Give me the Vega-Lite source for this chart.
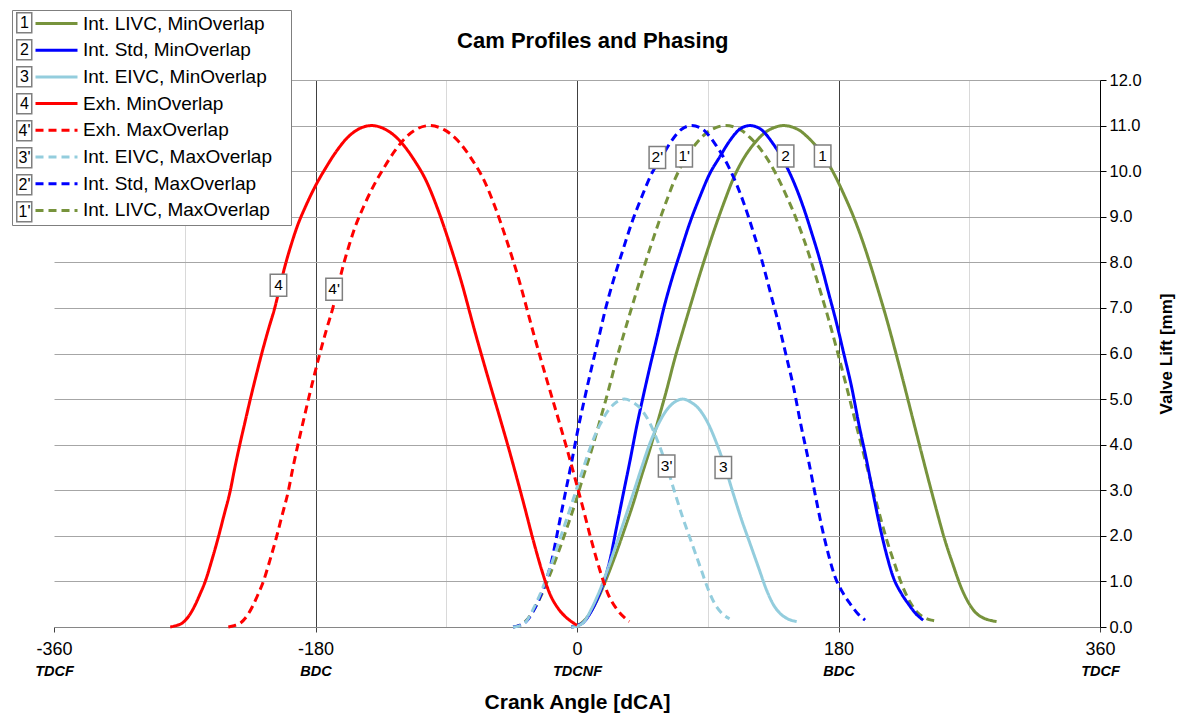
{
"$schema": "https://vega.github.io/schema/vega-lite/v6.json",
"width": 1046, "height": 547,
"autosize": "none",
"padding": {"left": 54, "top": 80, "right": 92, "bottom": 86},
"background": "white",
"config": {"view": {"stroke": null}, "font": "Liberation Sans"},
"title": {"text": "Cam Profiles and Phasing", "font": "Liberation Sans", "fontSize": 22, "fontWeight": "bold", "color": "black", "anchor": "middle", "frame": "bounds", "offset": -43},
"datasets": {
"curves": [
{"s":"Int. LIVC, MinOverlap","x":-4,"y":0},{"s":"Int. LIVC, MinOverlap","x":0,"y":0.03},{"s":"Int. LIVC, MinOverlap","x":5,"y":0.14},{"s":"Int. LIVC, MinOverlap","x":10,"y":0.36},{"s":"Int. LIVC, MinOverlap","x":15.8,"y":0.72},{"s":"Int. LIVC, MinOverlap","x":21,"y":1.12},{"s":"Int. LIVC, MinOverlap","x":27.3,"y":1.65},{"s":"Int. LIVC, MinOverlap","x":33,"y":2.17},{"s":"Int. LIVC, MinOverlap","x":38.7,"y":2.71},{"s":"Int. LIVC, MinOverlap","x":44,"y":3.27},{"s":"Int. LIVC, MinOverlap","x":50.2,"y":3.9},{"s":"Int. LIVC, MinOverlap","x":56,"y":4.55},{"s":"Int. LIVC, MinOverlap","x":61.7,"y":5.2},{"s":"Int. LIVC, MinOverlap","x":67,"y":5.85},{"s":"Int. LIVC, MinOverlap","x":73.1,"y":6.52},{"s":"Int. LIVC, MinOverlap","x":79,"y":7.15},{"s":"Int. LIVC, MinOverlap","x":84.6,"y":7.74},{"s":"Int. LIVC, MinOverlap","x":90,"y":8.28},{"s":"Int. LIVC, MinOverlap","x":96.1,"y":8.86},{"s":"Int. LIVC, MinOverlap","x":102,"y":9.38},{"s":"Int. LIVC, MinOverlap","x":107.5,"y":9.83},{"s":"Int. LIVC, MinOverlap","x":114,"y":10.24},{"s":"Int. LIVC, MinOverlap","x":121.3,"y":10.58},{"s":"Int. LIVC, MinOverlap","x":130,"y":10.86},{"s":"Int. LIVC, MinOverlap","x":136,"y":10.96},{"s":"Int. LIVC, MinOverlap","x":142,"y":11.0},{"s":"Int. LIVC, MinOverlap","x":148,"y":10.97},{"s":"Int. LIVC, MinOverlap","x":153.4,"y":10.89},{"s":"Int. LIVC, MinOverlap","x":159,"y":10.74},{"s":"Int. LIVC, MinOverlap","x":164.9,"y":10.54},{"s":"Int. LIVC, MinOverlap","x":171,"y":10.27},{"s":"Int. LIVC, MinOverlap","x":178.7,"y":9.83},{"s":"Int. LIVC, MinOverlap","x":184,"y":9.47},{"s":"Int. LIVC, MinOverlap","x":190.1,"y":9.02},{"s":"Int. LIVC, MinOverlap","x":196,"y":8.52},{"s":"Int. LIVC, MinOverlap","x":201.6,"y":7.98},{"s":"Int. LIVC, MinOverlap","x":207,"y":7.42},{"s":"Int. LIVC, MinOverlap","x":213.1,"y":6.76},{"s":"Int. LIVC, MinOverlap","x":219,"y":6.07},{"s":"Int. LIVC, MinOverlap","x":224.5,"y":5.4},{"s":"Int. LIVC, MinOverlap","x":230,"y":4.71},{"s":"Int. LIVC, MinOverlap","x":236,"y":3.96},{"s":"Int. LIVC, MinOverlap","x":241.5,"y":3.28},{"s":"Int. LIVC, MinOverlap","x":247.5,"y":2.56},{"s":"Int. LIVC, MinOverlap","x":253,"y":1.93},{"s":"Int. LIVC, MinOverlap","x":258.9,"y":1.36},{"s":"Int. LIVC, MinOverlap","x":264,"y":0.9},{"s":"Int. LIVC, MinOverlap","x":269.2,"y":0.55},{"s":"Int. LIVC, MinOverlap","x":274,"y":0.33},{"s":"Int. LIVC, MinOverlap","x":279.6,"y":0.2},{"s":"Int. LIVC, MinOverlap","x":284,"y":0.15},{"s":"Int. LIVC, MinOverlap","x":288.8,"y":0.12},

{"s":"Int. LIVC, MaxOverlap","x":-44,"y":0},{"s":"Int. LIVC, MaxOverlap","x":-40,"y":0.03},{"s":"Int. LIVC, MaxOverlap","x":-35,"y":0.14},{"s":"Int. LIVC, MaxOverlap","x":-30,"y":0.36},{"s":"Int. LIVC, MaxOverlap","x":-24.2,"y":0.72},{"s":"Int. LIVC, MaxOverlap","x":-19,"y":1.12},{"s":"Int. LIVC, MaxOverlap","x":-12.7,"y":1.65},{"s":"Int. LIVC, MaxOverlap","x":-7,"y":2.17},{"s":"Int. LIVC, MaxOverlap","x":-1.3,"y":2.71},{"s":"Int. LIVC, MaxOverlap","x":4,"y":3.27},{"s":"Int. LIVC, MaxOverlap","x":10.2,"y":3.9},{"s":"Int. LIVC, MaxOverlap","x":16,"y":4.55},{"s":"Int. LIVC, MaxOverlap","x":21.7,"y":5.2},{"s":"Int. LIVC, MaxOverlap","x":27,"y":5.85},{"s":"Int. LIVC, MaxOverlap","x":33.1,"y":6.52},{"s":"Int. LIVC, MaxOverlap","x":39,"y":7.15},{"s":"Int. LIVC, MaxOverlap","x":44.6,"y":7.74},{"s":"Int. LIVC, MaxOverlap","x":50,"y":8.28},{"s":"Int. LIVC, MaxOverlap","x":56.1,"y":8.86},{"s":"Int. LIVC, MaxOverlap","x":62,"y":9.38},{"s":"Int. LIVC, MaxOverlap","x":67.5,"y":9.83},{"s":"Int. LIVC, MaxOverlap","x":74,"y":10.24},{"s":"Int. LIVC, MaxOverlap","x":81.3,"y":10.58},{"s":"Int. LIVC, MaxOverlap","x":90,"y":10.86},{"s":"Int. LIVC, MaxOverlap","x":96,"y":10.96},{"s":"Int. LIVC, MaxOverlap","x":102,"y":11.0},{"s":"Int. LIVC, MaxOverlap","x":108,"y":10.97},{"s":"Int. LIVC, MaxOverlap","x":113.4,"y":10.89},{"s":"Int. LIVC, MaxOverlap","x":119,"y":10.74},{"s":"Int. LIVC, MaxOverlap","x":124.9,"y":10.54},{"s":"Int. LIVC, MaxOverlap","x":131,"y":10.27},{"s":"Int. LIVC, MaxOverlap","x":138.7,"y":9.83},{"s":"Int. LIVC, MaxOverlap","x":144,"y":9.47},{"s":"Int. LIVC, MaxOverlap","x":150.1,"y":9.02},{"s":"Int. LIVC, MaxOverlap","x":156,"y":8.52},{"s":"Int. LIVC, MaxOverlap","x":161.6,"y":7.98},{"s":"Int. LIVC, MaxOverlap","x":167,"y":7.42},{"s":"Int. LIVC, MaxOverlap","x":173.1,"y":6.76},{"s":"Int. LIVC, MaxOverlap","x":179,"y":6.07},{"s":"Int. LIVC, MaxOverlap","x":184.5,"y":5.4},{"s":"Int. LIVC, MaxOverlap","x":190,"y":4.71},{"s":"Int. LIVC, MaxOverlap","x":196,"y":3.96},{"s":"Int. LIVC, MaxOverlap","x":201.5,"y":3.28},{"s":"Int. LIVC, MaxOverlap","x":207.5,"y":2.56},{"s":"Int. LIVC, MaxOverlap","x":213,"y":1.93},{"s":"Int. LIVC, MaxOverlap","x":218.9,"y":1.36},{"s":"Int. LIVC, MaxOverlap","x":224,"y":0.9},{"s":"Int. LIVC, MaxOverlap","x":229.2,"y":0.55},{"s":"Int. LIVC, MaxOverlap","x":234,"y":0.33},{"s":"Int. LIVC, MaxOverlap","x":239.6,"y":0.2},{"s":"Int. LIVC, MaxOverlap","x":244,"y":0.15},{"s":"Int. LIVC, MaxOverlap","x":248.8,"y":0.12},

{"s":"Int. Std, MinOverlap","x":-4,"y":0},{"s":"Int. Std, MinOverlap","x":0,"y":0.03},{"s":"Int. Std, MinOverlap","x":5,"y":0.12},{"s":"Int. Std, MinOverlap","x":9,"y":0.3},{"s":"Int. Std, MinOverlap","x":13.6,"y":0.59},{"s":"Int. Std, MinOverlap","x":18,"y":0.95},{"s":"Int. Std, MinOverlap","x":22.7,"y":1.47},{"s":"Int. Std, MinOverlap","x":27,"y":2.15},{"s":"Int. Std, MinOverlap","x":31.9,"y":2.93},{"s":"Int. Std, MinOverlap","x":36.5,"y":3.65},{"s":"Int. Std, MinOverlap","x":41,"y":4.39},{"s":"Int. Std, MinOverlap","x":45.5,"y":5.05},{"s":"Int. Std, MinOverlap","x":50.2,"y":5.71},{"s":"Int. Std, MinOverlap","x":55,"y":6.35},{"s":"Int. Std, MinOverlap","x":59.4,"y":6.95},{"s":"Int. Std, MinOverlap","x":65,"y":7.6},{"s":"Int. Std, MinOverlap","x":70.9,"y":8.2},{"s":"Int. Std, MinOverlap","x":77.5,"y":8.85},{"s":"Int. Std, MinOverlap","x":84.6,"y":9.44},{"s":"Int. Std, MinOverlap","x":91,"y":9.92},{"s":"Int. Std, MinOverlap","x":98.4,"y":10.32},{"s":"Int. Std, MinOverlap","x":105,"y":10.66},{"s":"Int. Std, MinOverlap","x":112,"y":10.92},{"s":"Int. Std, MinOverlap","x":119,"y":11.0},{"s":"Int. Std, MinOverlap","x":126,"y":10.93},{"s":"Int. Std, MinOverlap","x":135,"y":10.6},{"s":"Int. Std, MinOverlap","x":144.3,"y":10.1},{"s":"Int. Std, MinOverlap","x":150,"y":9.7},{"s":"Int. Std, MinOverlap","x":155.7,"y":9.22},{"s":"Int. Std, MinOverlap","x":161.5,"y":8.65},{"s":"Int. Std, MinOverlap","x":167.2,"y":8.05},{"s":"Int. Std, MinOverlap","x":173,"y":7.35},{"s":"Int. Std, MinOverlap","x":178.7,"y":6.66},{"s":"Int. Std, MinOverlap","x":184,"y":5.95},{"s":"Int. Std, MinOverlap","x":189,"y":5.27},{"s":"Int. Std, MinOverlap","x":194,"y":4.45},{"s":"Int. Std, MinOverlap","x":199.3,"y":3.66},{"s":"Int. Std, MinOverlap","x":204,"y":2.9},{"s":"Int. Std, MinOverlap","x":208.5,"y":2.2},{"s":"Int. Std, MinOverlap","x":213,"y":1.6},{"s":"Int. Std, MinOverlap","x":217.6,"y":1.1},{"s":"Int. Std, MinOverlap","x":223,"y":0.75},{"s":"Int. Std, MinOverlap","x":228,"y":0.51},{"s":"Int. Std, MinOverlap","x":233,"y":0.3},{"s":"Int. Std, MinOverlap","x":238.3,"y":0.15},

{"s":"Int. Std, MaxOverlap","x":-44,"y":0},{"s":"Int. Std, MaxOverlap","x":-40,"y":0.03},{"s":"Int. Std, MaxOverlap","x":-35,"y":0.12},{"s":"Int. Std, MaxOverlap","x":-31,"y":0.3},{"s":"Int. Std, MaxOverlap","x":-26.4,"y":0.59},{"s":"Int. Std, MaxOverlap","x":-22,"y":0.95},{"s":"Int. Std, MaxOverlap","x":-17.3,"y":1.47},{"s":"Int. Std, MaxOverlap","x":-13,"y":2.15},{"s":"Int. Std, MaxOverlap","x":-8.1,"y":2.93},{"s":"Int. Std, MaxOverlap","x":-3.5,"y":3.65},{"s":"Int. Std, MaxOverlap","x":1,"y":4.39},{"s":"Int. Std, MaxOverlap","x":5.5,"y":5.05},{"s":"Int. Std, MaxOverlap","x":10.2,"y":5.71},{"s":"Int. Std, MaxOverlap","x":15,"y":6.35},{"s":"Int. Std, MaxOverlap","x":19.4,"y":6.95},{"s":"Int. Std, MaxOverlap","x":25,"y":7.6},{"s":"Int. Std, MaxOverlap","x":30.9,"y":8.2},{"s":"Int. Std, MaxOverlap","x":37.5,"y":8.85},{"s":"Int. Std, MaxOverlap","x":44.6,"y":9.44},{"s":"Int. Std, MaxOverlap","x":51,"y":9.92},{"s":"Int. Std, MaxOverlap","x":58.4,"y":10.32},{"s":"Int. Std, MaxOverlap","x":65,"y":10.66},{"s":"Int. Std, MaxOverlap","x":72,"y":10.92},{"s":"Int. Std, MaxOverlap","x":79,"y":11.0},{"s":"Int. Std, MaxOverlap","x":86,"y":10.93},{"s":"Int. Std, MaxOverlap","x":95,"y":10.6},{"s":"Int. Std, MaxOverlap","x":104.3,"y":10.1},{"s":"Int. Std, MaxOverlap","x":110,"y":9.7},{"s":"Int. Std, MaxOverlap","x":115.7,"y":9.22},{"s":"Int. Std, MaxOverlap","x":121.5,"y":8.65},{"s":"Int. Std, MaxOverlap","x":127.2,"y":8.05},{"s":"Int. Std, MaxOverlap","x":133,"y":7.35},{"s":"Int. Std, MaxOverlap","x":138.7,"y":6.66},{"s":"Int. Std, MaxOverlap","x":144,"y":5.95},{"s":"Int. Std, MaxOverlap","x":149,"y":5.27},{"s":"Int. Std, MaxOverlap","x":154,"y":4.45},{"s":"Int. Std, MaxOverlap","x":159.3,"y":3.66},{"s":"Int. Std, MaxOverlap","x":164,"y":2.9},{"s":"Int. Std, MaxOverlap","x":168.5,"y":2.2},{"s":"Int. Std, MaxOverlap","x":173,"y":1.6},{"s":"Int. Std, MaxOverlap","x":177.6,"y":1.1},{"s":"Int. Std, MaxOverlap","x":183,"y":0.75},{"s":"Int. Std, MaxOverlap","x":188,"y":0.51},{"s":"Int. Std, MaxOverlap","x":193,"y":0.3},{"s":"Int. Std, MaxOverlap","x":198.3,"y":0.15},

{"s":"Int. EIVC, MinOverlap","x":-4,"y":0},{"s":"Int. EIVC, MinOverlap","x":0,"y":0.02},{"s":"Int. EIVC, MinOverlap","x":5,"y":0.12},{"s":"Int. EIVC, MinOverlap","x":10,"y":0.4},{"s":"Int. EIVC, MinOverlap","x":15.8,"y":0.81},{"s":"Int. EIVC, MinOverlap","x":21.5,"y":1.3},{"s":"Int. EIVC, MinOverlap","x":27.3,"y":1.84},{"s":"Int. EIVC, MinOverlap","x":33,"y":2.38},{"s":"Int. EIVC, MinOverlap","x":38.7,"y":2.93},{"s":"Int. EIVC, MinOverlap","x":44.5,"y":3.5},{"s":"Int. EIVC, MinOverlap","x":50.2,"y":4.03},{"s":"Int. EIVC, MinOverlap","x":56,"y":4.45},{"s":"Int. EIVC, MinOverlap","x":61.7,"y":4.76},{"s":"Int. EIVC, MinOverlap","x":67,"y":4.93},{"s":"Int. EIVC, MinOverlap","x":72.7,"y":5.0},{"s":"Int. EIVC, MinOverlap","x":78.5,"y":4.93},{"s":"Int. EIVC, MinOverlap","x":84.6,"y":4.76},{"s":"Int. EIVC, MinOverlap","x":90.5,"y":4.45},{"s":"Int. EIVC, MinOverlap","x":96.1,"y":4.03},{"s":"Int. EIVC, MinOverlap","x":102,"y":3.5},{"s":"Int. EIVC, MinOverlap","x":107.5,"y":2.93},{"s":"Int. EIVC, MinOverlap","x":113,"y":2.38},{"s":"Int. EIVC, MinOverlap","x":119,"y":1.84},{"s":"Int. EIVC, MinOverlap","x":125,"y":1.3},{"s":"Int. EIVC, MinOverlap","x":130.5,"y":0.81},{"s":"Int. EIVC, MinOverlap","x":135,"y":0.5},{"s":"Int. EIVC, MinOverlap","x":139.7,"y":0.3},{"s":"Int. EIVC, MinOverlap","x":145,"y":0.18},{"s":"Int. EIVC, MinOverlap","x":151.2,"y":0.12},

{"s":"Int. EIVC, MaxOverlap","x":-44,"y":0},{"s":"Int. EIVC, MaxOverlap","x":-40,"y":0.02},{"s":"Int. EIVC, MaxOverlap","x":-35,"y":0.12},{"s":"Int. EIVC, MaxOverlap","x":-30,"y":0.4},{"s":"Int. EIVC, MaxOverlap","x":-24.2,"y":0.81},{"s":"Int. EIVC, MaxOverlap","x":-18.5,"y":1.3},{"s":"Int. EIVC, MaxOverlap","x":-12.7,"y":1.84},{"s":"Int. EIVC, MaxOverlap","x":-7,"y":2.38},{"s":"Int. EIVC, MaxOverlap","x":-1.3,"y":2.93},{"s":"Int. EIVC, MaxOverlap","x":4.5,"y":3.5},{"s":"Int. EIVC, MaxOverlap","x":10.2,"y":4.03},{"s":"Int. EIVC, MaxOverlap","x":16,"y":4.45},{"s":"Int. EIVC, MaxOverlap","x":21.7,"y":4.76},{"s":"Int. EIVC, MaxOverlap","x":27,"y":4.93},{"s":"Int. EIVC, MaxOverlap","x":32.7,"y":5.0},{"s":"Int. EIVC, MaxOverlap","x":38.5,"y":4.93},{"s":"Int. EIVC, MaxOverlap","x":44.6,"y":4.76},{"s":"Int. EIVC, MaxOverlap","x":50.5,"y":4.45},{"s":"Int. EIVC, MaxOverlap","x":56.1,"y":4.03},{"s":"Int. EIVC, MaxOverlap","x":62,"y":3.5},{"s":"Int. EIVC, MaxOverlap","x":67.5,"y":2.93},{"s":"Int. EIVC, MaxOverlap","x":73,"y":2.38},{"s":"Int. EIVC, MaxOverlap","x":79,"y":1.84},{"s":"Int. EIVC, MaxOverlap","x":85,"y":1.3},{"s":"Int. EIVC, MaxOverlap","x":90.5,"y":0.81},{"s":"Int. EIVC, MaxOverlap","x":95,"y":0.5},{"s":"Int. EIVC, MaxOverlap","x":99.7,"y":0.3},{"s":"Int. EIVC, MaxOverlap","x":105,"y":0.18},

{"s":"Exh. MinOverlap","x":-280,"y":0},{"s":"Exh. MinOverlap","x":-276,"y":0.03},{"s":"Exh. MinOverlap","x":-272,"y":0.08},{"s":"Exh. MinOverlap","x":-267,"y":0.25},{"s":"Exh. MinOverlap","x":-262.9,"y":0.48},{"s":"Exh. MinOverlap","x":-259.5,"y":0.72},{"s":"Exh. MinOverlap","x":-256,"y":0.99},{"s":"Exh. MinOverlap","x":-251.5,"y":1.45},{"s":"Exh. MinOverlap","x":-246.8,"y":1.98},{"s":"Exh. MinOverlap","x":-243,"y":2.45},{"s":"Exh. MinOverlap","x":-238.8,"y":2.97},{"s":"Exh. MinOverlap","x":-235.5,"y":3.5},{"s":"Exh. MinOverlap","x":-231.9,"y":4.03},{"s":"Exh. MinOverlap","x":-228.5,"y":4.5},{"s":"Exh. MinOverlap","x":-225,"y":4.98},{"s":"Exh. MinOverlap","x":-221,"y":5.5},{"s":"Exh. MinOverlap","x":-217,"y":6.0},{"s":"Exh. MinOverlap","x":-212.5,"y":6.52},{"s":"Exh. MinOverlap","x":-207.8,"y":7.03},{"s":"Exh. MinOverlap","x":-204.5,"y":7.47},{"s":"Exh. MinOverlap","x":-200.9,"y":7.93},{"s":"Exh. MinOverlap","x":-196.8,"y":8.38},{"s":"Exh. MinOverlap","x":-192.9,"y":8.76},{"s":"Exh. MinOverlap","x":-186.5,"y":9.25},{"s":"Exh. MinOverlap","x":-180.3,"y":9.66},{"s":"Exh. MinOverlap","x":-172.8,"y":10.08},{"s":"Exh. MinOverlap","x":-165.3,"y":10.45},{"s":"Exh. MinOverlap","x":-158.5,"y":10.72},{"s":"Exh. MinOverlap","x":-151.6,"y":10.9},{"s":"Exh. MinOverlap","x":-141.3,"y":11.0},{"s":"Exh. MinOverlap","x":-131.5,"y":10.91},{"s":"Exh. MinOverlap","x":-121.8,"y":10.66},{"s":"Exh. MinOverlap","x":-112.6,"y":10.27},{"s":"Exh. MinOverlap","x":-103.4,"y":9.76},{"s":"Exh. MinOverlap","x":-96,"y":9.18},{"s":"Exh. MinOverlap","x":-88.6,"y":8.5},{"s":"Exh. MinOverlap","x":-80,"y":7.62},{"s":"Exh. MinOverlap","x":-70,"y":6.45},{"s":"Exh. MinOverlap","x":-61.5,"y":5.5},{"s":"Exh. MinOverlap","x":-53,"y":4.58},{"s":"Exh. MinOverlap","x":-47.3,"y":3.95},{"s":"Exh. MinOverlap","x":-41.5,"y":3.28},{"s":"Exh. MinOverlap","x":-35.8,"y":2.6},{"s":"Exh. MinOverlap","x":-30.1,"y":1.9},{"s":"Exh. MinOverlap","x":-24.3,"y":1.25},{"s":"Exh. MinOverlap","x":-18.6,"y":0.72},{"s":"Exh. MinOverlap","x":-12.8,"y":0.4},{"s":"Exh. MinOverlap","x":-7.1,"y":0.2},{"s":"Exh. MinOverlap","x":-3,"y":0.1},{"s":"Exh. MinOverlap","x":0,"y":0.04},

{"s":"Exh. MaxOverlap","x":-240,"y":0},{"s":"Exh. MaxOverlap","x":-236,"y":0.03},{"s":"Exh. MaxOverlap","x":-232,"y":0.08},{"s":"Exh. MaxOverlap","x":-227,"y":0.25},{"s":"Exh. MaxOverlap","x":-222.9,"y":0.48},{"s":"Exh. MaxOverlap","x":-219.5,"y":0.72},{"s":"Exh. MaxOverlap","x":-216,"y":0.99},{"s":"Exh. MaxOverlap","x":-211.5,"y":1.45},{"s":"Exh. MaxOverlap","x":-206.8,"y":1.98},{"s":"Exh. MaxOverlap","x":-203,"y":2.45},{"s":"Exh. MaxOverlap","x":-198.8,"y":2.97},{"s":"Exh. MaxOverlap","x":-195.5,"y":3.5},{"s":"Exh. MaxOverlap","x":-191.9,"y":4.03},{"s":"Exh. MaxOverlap","x":-188.5,"y":4.5},{"s":"Exh. MaxOverlap","x":-185,"y":4.98},{"s":"Exh. MaxOverlap","x":-181,"y":5.5},{"s":"Exh. MaxOverlap","x":-177,"y":6.0},{"s":"Exh. MaxOverlap","x":-172.5,"y":6.52},{"s":"Exh. MaxOverlap","x":-167.8,"y":7.03},{"s":"Exh. MaxOverlap","x":-164.5,"y":7.47},{"s":"Exh. MaxOverlap","x":-160.9,"y":7.93},{"s":"Exh. MaxOverlap","x":-156.8,"y":8.38},{"s":"Exh. MaxOverlap","x":-152.9,"y":8.76},{"s":"Exh. MaxOverlap","x":-146.5,"y":9.25},{"s":"Exh. MaxOverlap","x":-140.3,"y":9.66},{"s":"Exh. MaxOverlap","x":-132.8,"y":10.08},{"s":"Exh. MaxOverlap","x":-125.3,"y":10.45},{"s":"Exh. MaxOverlap","x":-118.5,"y":10.72},{"s":"Exh. MaxOverlap","x":-111.6,"y":10.9},{"s":"Exh. MaxOverlap","x":-101.3,"y":11.0},{"s":"Exh. MaxOverlap","x":-91.5,"y":10.91},{"s":"Exh. MaxOverlap","x":-81.8,"y":10.66},{"s":"Exh. MaxOverlap","x":-72.6,"y":10.27},{"s":"Exh. MaxOverlap","x":-63.4,"y":9.76},{"s":"Exh. MaxOverlap","x":-56,"y":9.18},{"s":"Exh. MaxOverlap","x":-48.6,"y":8.5},{"s":"Exh. MaxOverlap","x":-40,"y":7.62},{"s":"Exh. MaxOverlap","x":-30,"y":6.45},{"s":"Exh. MaxOverlap","x":-21.5,"y":5.5},{"s":"Exh. MaxOverlap","x":-13,"y":4.58},{"s":"Exh. MaxOverlap","x":-7.3,"y":3.95},{"s":"Exh. MaxOverlap","x":-1.5,"y":3.28},{"s":"Exh. MaxOverlap","x":4.2,"y":2.6},{"s":"Exh. MaxOverlap","x":9.9,"y":1.9},{"s":"Exh. MaxOverlap","x":15.7,"y":1.25},{"s":"Exh. MaxOverlap","x":21.4,"y":0.72},{"s":"Exh. MaxOverlap","x":27.2,"y":0.4},{"s":"Exh. MaxOverlap","x":32.9,"y":0.2},{"s":"Exh. MaxOverlap","x":36,"y":0.12}
],
"tags": [
{"lab":"1","x":169.1,"y":10.33},
{"lab":"2","x":143.6,"y":10.33},
{"lab":"3","x":100.7,"y":3.5},
{"lab":"4","x":-205.5,"y":7.5},
{"lab":"4'","x":-167.2,"y":7.41},
{"lab":"3'","x":61.7,"y":3.53},
{"lab":"2'","x":55.3,"y":10.3},
{"lab":"1'","x":73.8,"y":10.33}
]
},
"resolve": {"axis": {"x": "independent"}},
"layer": [
{
"mark": {"type": "rule", "color": "#4A7EBB", "strokeDash": [10, 6], "strokeWidth": 1.5},
"encoding": {"y": {"datum": 0.5, "type": "quantitative", "scale": {"domain": [0, 12]}}}
},
{
"data": {"name": "curves"},
"mark": {"type": "line", "strokeWidth": 3, "interpolate": "monotone"},
"encoding": {
"x": {"field": "x", "type": "quantitative",
 "scale": {"domain": [-360, 360], "nice": false, "zero": false},
 "axis": {"title": "Crank Angle [dCA]", "titleFont": "Liberation Sans", "titleFontSize": 21, "titleFontWeight": "bold", "titleColor": "black", "titlePadding": 33,
  "values": [-360, -270, -180, -90, 0, 90, 180, 270, 360],
  "labelExpr": "abs(datum.value) % 180 == 0 ? replace(datum.label, '\u2212', '-') : ''",
  "labelFont": "Liberation Sans", "labelFontSize": 18, "labelColor": "black", "labelPadding": 8, "labelFlush": false, "labelOverlap": false,
  "tickSize": 5, "tickColor": {"condition": {"test": "abs(datum.value) % 180 != 0", "value": "transparent"}, "value": "#404040"},
  "domainColor": "#868686",
  "grid": true, "gridColor": {"condition": [{"test": "abs(datum.value) == 360", "value": "transparent"}, {"test": "abs(datum.value) % 180 == 0", "value": "#404040"}], "value": "#d9d9d9"}}},
"y": {"field": "y", "type": "quantitative",
 "scale": {"domain": [0, 12], "nice": false},
 "axis": {"orient": "right", "title": "Valve Lift [mm]", "titleFont": "Liberation Sans", "titleFontSize": 17, "titleFontWeight": "bold", "titleColor": "black", "titleAngle": 270, "titlePadding": 34,
  "values": [0,1,2,3,4,5,6,7,8,9,10,11,12], "format": ".1f",
  "labelFont": "Liberation Sans", "labelFontSize": 16.5, "labelColor": "black", "labelPadding": 3,
  "tickSize": 6, "tickColor": "black", "domainColor": "black",
  "grid": true, "gridColor": "#a6a6a6"}},
"color": {"field": "s", "type": "nominal",
 "scale": {"domain": ["Int. LIVC, MinOverlap","Int. Std, MinOverlap","Int. EIVC, MinOverlap","Exh. MinOverlap","Exh. MaxOverlap","Int. EIVC, MaxOverlap","Int. Std, MaxOverlap","Int. LIVC, MaxOverlap"],
  "range": ["#77933C","#0000FF","#93CDDD","#FF0000","#FF0000","#93CDDD","#0000FF","#77933C"]},
 "legend": {"orient": "none", "legendX": -42, "legendY": -70, "title": null, "symbolType": "M-3,0H3", "symbolSize": 196, "symbolStrokeWidth": 3, "symbolOffset": 31, "labelOffset": 17, "labelExpr": "datum.label + '\u2800'", "labelFont": "Liberation Sans", "labelFontSize": 19, "labelColor": "black", "labelLimit": 400, "rowPadding": 6.7, "padding": 4, "strokeColor": "#7f7f7f", "fillColor": "white"}},
"strokeDash": {"field": "s", "type": "nominal",
 "scale": {"domain": ["Int. LIVC, MinOverlap","Int. Std, MinOverlap","Int. EIVC, MinOverlap","Exh. MinOverlap","Exh. MaxOverlap","Int. EIVC, MaxOverlap","Int. Std, MaxOverlap","Int. LIVC, MaxOverlap"],
  "range": [[1,0],[1,0],[1,0],[1,0],[8,5],[8,5],[8,5],[8,5]]},
 "legend": {"orient": "none", "legendX": -42, "legendY": -70, "title": null, "symbolType": "M-3,0H3", "symbolSize": 196, "symbolStrokeWidth": 3, "symbolOffset": 31, "labelOffset": 17, "labelExpr": "datum.label + '\u2800'", "labelFont": "Liberation Sans", "labelFontSize": 19, "labelColor": "black", "labelLimit": 400, "rowPadding": 6.7, "padding": 4, "strokeColor": "#7f7f7f", "fillColor": "white"}}
}
},
{
"data": {"name": "tags"},
"mark": {"type": "point", "shape": "M-0.75,-1H0.75V1H-0.75Z", "size": 484, "filled": true, "opacity": 1, "stroke": "#7f7f7f", "strokeWidth": 1.5},
"encoding": {
"x": {"field": "x", "type": "quantitative",
 "axis": {"orient": "bottom", "title": null, "values": [-360, -180, 0, 180, 360],
  "labelExpr": "datum.value == 0 ? 'TDCNF' : (abs(datum.value) == 180 ? 'BDC' : 'TDCF')",
  "labelFont": "Liberation Sans", "labelFontSize": 14.5, "labelFontWeight": "bold", "labelFontStyle": "italic", "labelColor": "black",
  "labelPadding": 37, "labelFlush": false, "labelOverlap": false, "ticks": false, "domain": false, "grid": false}},
"y": {"field": "y", "type": "quantitative"},
"fill": {"field": "lab", "type": "nominal",
 "scale": {"domain": ["1","2","3","4","4'","3'","2'","1'"], "range": ["white","white","white","white","white","white","white","white"]},
 "legend": {"orient": "none", "legendX": -40.75, "legendY": -68.25, "title": null, "symbolType": "M-0.75,-1H0.75V1H-0.75Z", "symbolSize": 400, "symbolStrokeColor": "#7f7f7f", "symbolStrokeWidth": 1.5, "labelAlign": "center", "labelOffset": -10.75, "labelFont": "Liberation Sans", "labelFontSize": 16, "labelColor": "black", "rowPadding": 1, "padding": 0}}
}
},
{
"data": {"name": "tags"},
"mark": {"type": "text", "font": "Liberation Sans", "fontSize": 15.5, "color": "black", "align": "center", "baseline": "middle"},
"encoding": {
"x": {"field": "x", "type": "quantitative", "axis": null},
"y": {"field": "y", "type": "quantitative"},
"text": {"field": "lab"}
}
}
]
}
